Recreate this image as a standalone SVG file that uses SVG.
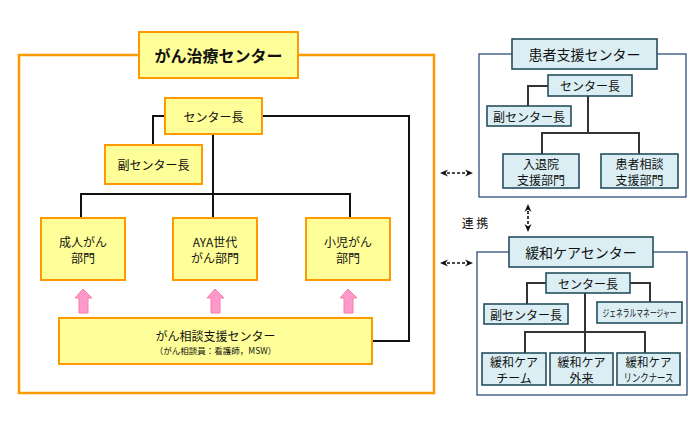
<svg xmlns="http://www.w3.org/2000/svg" width="700" height="422" viewBox="0 0 700 422">
<style>
text{font-family:"Noto Sans CJK JP","Liberation Sans",sans-serif;fill:#111;text-anchor:middle;dominant-baseline:central}
.ob{fill:#FFFF99;stroke:#FF9900;stroke-width:2}
.bb{fill:#DAEEF3;stroke:#254E5E;stroke-width:1.6}
.frameO{fill:none;stroke:#FF9900;stroke-width:2.5}
.frameB{fill:#fff;stroke:#2E4F7A;stroke-width:1.3}
.ln{fill:none;stroke:#111;stroke-width:2}
.lnb{fill:none;stroke:#333;stroke-width:2}
.da{fill:none;stroke:#111;stroke-width:1.6;stroke-dasharray:3 2}
.pk{fill:#FF99CC;stroke:#F47FA5;stroke-width:1}
.t12{font-size:12px}
</style>
<defs>
<marker id="ah" viewBox="0 0 8 8" refX="6" refY="4" markerWidth="8" markerHeight="8" orient="auto-start-reverse" markerUnits="userSpaceOnUse">
<path d="M0,0.5 L8,4 L0,7.5 L2.5,4 Z" fill="#111"/>
</marker>
</defs>
<rect width="700" height="422" fill="#fff"/>

<!-- frames -->
<rect class="frameO" x="19" y="55" width="415" height="338"/>
<rect class="frameB" x="479" y="54" width="207" height="143"/>
<rect class="frameB" x="477" y="252" width="210" height="143"/>

<!-- connectors -->
<g id="connectors">
<polyline class="ln" points="165,116 153,116 153,145"/>
<polyline class="ln" points="213,134 213,218"/>
<polyline class="ln" points="81,218 81,194 350,194 350,218"/>
<polyline class="ln" points="262,116 409,116 409,341 367,341"/>
<g id="pinkArrows">
<path class="pk" d="M83,289 L92,298 L88,298 L88,313 L79,313 L79,298 L75,298 Z"/>
<path class="pk" d="M215,289 L224,298 L220,298 L220,313 L211,313 L211,298 L207,298 Z"/>
<path class="pk" d="M348,289 L357,298 L353,298 L353,313 L344,313 L344,298 L340,298 Z"/>
</g>
<polyline class="lnb" points="548,86 528,86 528,106"/>
<polyline class="lnb" points="588,96 588,133"/>
<polyline class="lnb" points="542,154 542,133 639,133 639,154"/>
<polyline class="lnb" points="546,283 527,283 527,304"/>
<polyline class="lnb" points="630,283 650,283 650,302"/>
<polyline class="lnb" points="585,293 585,353"/>
<polyline class="lnb" points="525,353 525,332 645,332 645,353"/>
<line class="da" x1="442" y1="173" x2="471" y2="173" marker-start="url(#ah)" marker-end="url(#ah)"/>
<line class="da" x1="442" y1="263" x2="471" y2="263" marker-start="url(#ah)" marker-end="url(#ah)"/>
<line class="da" x1="528" y1="206" x2="528" y2="230" marker-start="url(#ah)" marker-end="url(#ah)"/>
<text class="t12" x="475" y="222">連 携</text>
</g>

<!-- left: がん治療センター -->
<g id="n-title-left">
<rect class="ob" x="139" y="32" width="159" height="46"/>
<text x="218.5" y="55" style="font-size:16px;font-weight:bold">がん治療センター</text>
</g>
<g id="n-head-left">
<rect class="ob" x="165" y="98" width="97" height="36"/>
<text class="t12" x="213.5" y="116">センター長</text>
</g>
<g id="n-vice-left">
<rect class="ob" x="105" y="145" width="97" height="39"/>
<text class="t12" x="153.5" y="164.5">副センター長</text>
</g>
<g id="n-adult">
<rect class="ob" x="41" y="218" width="84" height="62"/>
<text class="t12" x="83" y="241">成人がん</text>
<text class="t12" x="83" y="257">部門</text>
</g>
<g id="n-aya">
<rect class="ob" x="173" y="218" width="84" height="62"/>
<text class="t12" x="215" y="241">AYA世代</text>
<text class="t12" x="215" y="257">がん部門</text>
</g>
<g id="n-child">
<rect class="ob" x="306" y="218" width="84" height="62"/>
<text class="t12" x="348" y="241">小児がん</text>
<text class="t12" x="348" y="257">部門</text>
</g>
<g id="n-consult">
<rect class="ob" x="59" y="318" width="313" height="46"/>
<text class="t12" x="215.5" y="335.5">がん相談支援センター</text>
<text x="215.5" y="349.5" style="font-size:8.5px">（がん相談員：看護師，MSW）</text>
</g>

<!-- right top: 患者支援センター -->
<g id="n-title-patient">
<rect class="bb" x="512" y="39" width="145" height="30"/>
<text x="584.5" y="54" style="font-size:14px">患者支援センター</text>
</g>
<g id="n-head-patient">
<rect class="bb" x="548" y="75" width="84" height="21"/>
<text class="t12" x="590" y="85.5">センター長</text>
</g>
<g id="n-vice-patient">
<rect class="bb" x="487" y="106" width="84" height="20"/>
<text class="t12" x="529" y="116">副センター長</text>
</g>
<g id="n-admission">
<rect class="bb" x="503" y="154" width="76" height="34"/>
<text class="t12" x="541" y="163">入退院</text>
<text class="t12" x="541" y="179">支援部門</text>
</g>
<g id="n-patientconsult">
<rect class="bb" x="601" y="154" width="77" height="34"/>
<text class="t12" x="639.5" y="163">患者相談</text>
<text class="t12" x="639.5" y="179">支援部門</text>
</g>

<!-- right bottom: 緩和ケアセンター -->
<g id="n-title-palliative">
<rect class="bb" x="509" y="237" width="144" height="30"/>
<text x="581" y="252" style="font-size:14px">緩和ケアセンター</text>
</g>
<g id="n-head-palliative">
<rect class="bb" x="546" y="273" width="84" height="20"/>
<text class="t12" x="588" y="283">センター長</text>
</g>
<g id="n-vice-palliative">
<rect class="bb" x="484" y="304" width="84" height="20"/>
<text class="t12" x="526" y="314">副センター長</text>
</g>
<g id="n-gm">
<rect class="bb" x="597" y="302" width="85" height="21"/>
<text x="639.5" y="312.5" style="font-size:10px" textLength="74" lengthAdjust="spacingAndGlyphs">ジェネラルマネージャー</text>
</g>
<g id="n-team">
<rect class="bb" x="482" y="353" width="64" height="32"/>
<text class="t12" x="514" y="361.5">緩和ケア</text>
<text class="t12" x="514" y="377">チーム</text>
</g>
<g id="n-outpatient">
<rect class="bb" x="550" y="353" width="63" height="32"/>
<text class="t12" x="581.5" y="361.5">緩和ケア</text>
<text class="t12" x="581.5" y="377">外来</text>
</g>
<g id="n-linknurse">
<rect class="bb" x="617" y="353" width="63" height="32"/>
<text class="t12" x="648.5" y="361.5" textLength="46" lengthAdjust="spacingAndGlyphs">緩和ケア</text>
<text x="648.5" y="377" style="font-size:11px" textLength="50" lengthAdjust="spacingAndGlyphs">リンクナース</text>
</g>
</svg>
